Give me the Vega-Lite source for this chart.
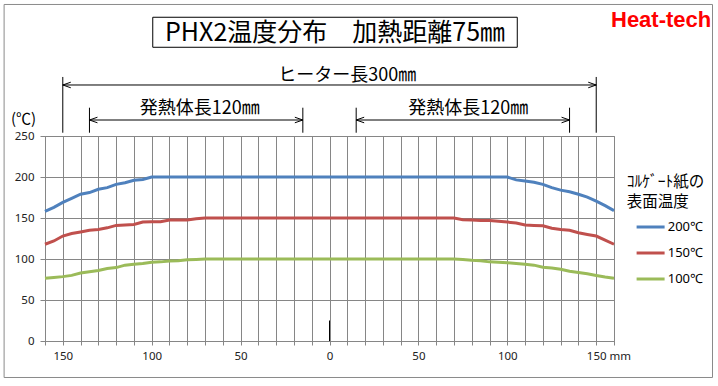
{
  "$schema": "https://vega.github.io/schema/vega-lite/v6.json",
  "width": 569,
  "height": 205,
  "autosize": {"type": "none"},
  "padding": {"left": 45, "top": 136, "right": 104, "bottom": 45},
  "background": "white",
  "config": {
    "view": {"stroke": "#868686", "strokeWidth": 1},
    "axis": {"labelFont": "Noto Sans", "labelFontSize": 11.5, "labelColor": "#222", "gridColor": "#868686", "gridOpacity": 1, "tickColor": "#868686", "domainColor": "#868686"}
  },
  "layer": [
    {
      "data": {"values": [{}]},
      "mark": {"type": "rect", "filled": false, "stroke": "#8a8a8a", "strokeWidth": 1, "clip": false},
      "encoding": {"x": {"datum": -183}, "x2": {"datum": 215.4}, "y": {"datum": 410.4}, "y2": {"datum": -44.5}}
    },
    {
      "data": {"values": [
        {"x": -160, "s": "200℃", "t": 158}, {"x": -155, "s": "200℃", "t": 163}, {"x": -150, "s": "200℃", "t": 169}, {"x": -145, "s": "200℃", "t": 174}, {"x": -140, "s": "200℃", "t": 179}, {"x": -135, "s": "200℃", "t": 181}, {"x": -130, "s": "200℃", "t": 185}, {"x": -125, "s": "200℃", "t": 187}, {"x": -120, "s": "200℃", "t": 191}, {"x": -115, "s": "200℃", "t": 193}, {"x": -110, "s": "200℃", "t": 196}, {"x": -105, "s": "200℃", "t": 197}, {"x": -100, "s": "200℃", "t": 200}, {"x": -50, "s": "200℃", "t": 200}, {"x": 0, "s": "200℃", "t": 200}, {"x": 50, "s": "200℃", "t": 200}, {"x": 100, "s": "200℃", "t": 200}, {"x": 105, "s": "200℃", "t": 196.5}, {"x": 110, "s": "200℃", "t": 195}, {"x": 115, "s": "200℃", "t": 193.5}, {"x": 120, "s": "200℃", "t": 191}, {"x": 125, "s": "200℃", "t": 187}, {"x": 130, "s": "200℃", "t": 184}, {"x": 135, "s": "200℃", "t": 182}, {"x": 140, "s": "200℃", "t": 179}, {"x": 145, "s": "200℃", "t": 175.5}, {"x": 150, "s": "200℃", "t": 170.5}, {"x": 155, "s": "200℃", "t": 165}, {"x": 160, "s": "200℃", "t": 159},
        {"x": -160, "s": "150℃", "t": 118}, {"x": -155, "s": "150℃", "t": 122}, {"x": -150, "s": "150℃", "t": 128}, {"x": -145, "s": "150℃", "t": 131}, {"x": -140, "s": "150℃", "t": 133}, {"x": -135, "s": "150℃", "t": 135}, {"x": -130, "s": "150℃", "t": 136}, {"x": -125, "s": "150℃", "t": 138}, {"x": -120, "s": "150℃", "t": 141}, {"x": -115, "s": "150℃", "t": 141.5}, {"x": -110, "s": "150℃", "t": 142}, {"x": -105, "s": "150℃", "t": 145}, {"x": -100, "s": "150℃", "t": 145.5}, {"x": -95, "s": "150℃", "t": 145.5}, {"x": -90, "s": "150℃", "t": 147.5}, {"x": -85, "s": "150℃", "t": 147.5}, {"x": -80, "s": "150℃", "t": 147.5}, {"x": -75, "s": "150℃", "t": 149}, {"x": -70, "s": "150℃", "t": 150}, {"x": 0, "s": "150℃", "t": 150}, {"x": 70, "s": "150℃", "t": 150}, {"x": 75, "s": "150℃", "t": 148}, {"x": 80, "s": "150℃", "t": 147.5}, {"x": 85, "s": "150℃", "t": 147}, {"x": 90, "s": "150℃", "t": 147}, {"x": 95, "s": "150℃", "t": 146}, {"x": 100, "s": "150℃", "t": 145}, {"x": 105, "s": "150℃", "t": 144}, {"x": 110, "s": "150℃", "t": 141.5}, {"x": 115, "s": "150℃", "t": 141}, {"x": 120, "s": "150℃", "t": 140.5}, {"x": 125, "s": "150℃", "t": 137.5}, {"x": 130, "s": "150℃", "t": 136}, {"x": 135, "s": "150℃", "t": 135}, {"x": 140, "s": "150℃", "t": 132}, {"x": 145, "s": "150℃", "t": 130}, {"x": 150, "s": "150℃", "t": 128}, {"x": 155, "s": "150℃", "t": 123}, {"x": 160, "s": "150℃", "t": 118},
        {"x": -160, "s": "100℃", "t": 76.5}, {"x": -155, "s": "100℃", "t": 77.5}, {"x": -150, "s": "100℃", "t": 78.5}, {"x": -145, "s": "100℃", "t": 80}, {"x": -140, "s": "100℃", "t": 83}, {"x": -135, "s": "100℃", "t": 84.5}, {"x": -130, "s": "100℃", "t": 86}, {"x": -125, "s": "100℃", "t": 88.5}, {"x": -120, "s": "100℃", "t": 89.5}, {"x": -115, "s": "100℃", "t": 92.5}, {"x": -110, "s": "100℃", "t": 93.5}, {"x": -105, "s": "100℃", "t": 94.5}, {"x": -100, "s": "100℃", "t": 96}, {"x": -95, "s": "100℃", "t": 96.5}, {"x": -90, "s": "100℃", "t": 97.5}, {"x": -85, "s": "100℃", "t": 98}, {"x": -80, "s": "100℃", "t": 99}, {"x": -75, "s": "100℃", "t": 99.5}, {"x": -70, "s": "100℃", "t": 100}, {"x": 0, "s": "100℃", "t": 100}, {"x": 70, "s": "100℃", "t": 100}, {"x": 75, "s": "100℃", "t": 99.5}, {"x": 80, "s": "100℃", "t": 98.5}, {"x": 85, "s": "100℃", "t": 98}, {"x": 90, "s": "100℃", "t": 96.5}, {"x": 95, "s": "100℃", "t": 96}, {"x": 100, "s": "100℃", "t": 95.5}, {"x": 105, "s": "100℃", "t": 94.5}, {"x": 110, "s": "100℃", "t": 93.5}, {"x": 115, "s": "100℃", "t": 92.5}, {"x": 120, "s": "100℃", "t": 90}, {"x": 125, "s": "100℃", "t": 89}, {"x": 130, "s": "100℃", "t": 87.5}, {"x": 135, "s": "100℃", "t": 85}, {"x": 140, "s": "100℃", "t": 83.5}, {"x": 145, "s": "100℃", "t": 82}, {"x": 150, "s": "100℃", "t": 80}, {"x": 155, "s": "100℃", "t": 78}, {"x": 160, "s": "100℃", "t": 76.5}
      ]},
      "mark": {"type": "line", "strokeWidth": 3},
      "encoding": {
        "x": {"field": "x", "type": "quantitative", "scale": {"domain": [-160, 160], "nice": false, "zero": false},
          "axis": {"title": null, "values": [-160, -150, -140, -130, -120, -110, -100, -90, -80, -70, -60, -50, -40, -30, -20, -10, 0, 10, 20, 30, 40, 50, 60, 70, 80, 90, 100, 110, 120, 130, 140, 150, 160], "tickCount": 40,
            "labelExpr": "datum.value % 50 == 0 ? format(abs(datum.value), 'd') : ''", "grid": true, "tickSize": 4, "labelPadding": 5, "labelFlush": false, "labelOverlap": false}},
        "y": {"field": "t", "type": "quantitative", "scale": {"domain": [0, 250], "nice": false},
          "axis": {"values": [0, 50, 100, 150, 200, 250], "tickCount": 10, "grid": true, "tickSize": 5, "labelPadding": 6,
            "title": "(℃)", "titleAngle": 0, "titleX": -22, "titleY": -18, "titleAlign": "center", "titleBaseline": "middle", "titleFont": "Noto Sans CJK JP", "titleFontSize": 15, "titleFontWeight": "normal", "titleColor": "black"}},
        "color": {"field": "s", "type": "nominal", "scale": {"domain": ["200℃", "150℃", "100℃"], "range": ["#4F81BD", "#C0504D", "#9BBB59"]},
          "legend": {"orient": "none", "legendX": 581.7, "legendY": 39, "padding": 0,
            "title": ["ｺﾙｹﾞｰﾄ紙の", "表面温度"], "titleFont": "Noto Sans CJK JP", "titleFontSize": 15.5, "titleFontWeight": "normal", "titleColor": "black", "titleLineHeight": 20, "titlePadding": 8,
            "labelFont": "Noto Sans", "labelFontSize": 13, "labelColor": "black", "labelOffset": 24,
            "symbolType": "M0.2,0H4.2", "symbolSize": 196, "symbolStrokeWidth": 3, "rowPadding": 10}}
      }
    },
    {
      "data": {"values": [{}]},
      "mark": {"type": "rule", "color": "black", "strokeWidth": 1},
      "encoding": {"x": {"datum": 0}, "y": {"datum": 0}, "y2": {"datum": 25}}
    },
    {
      "data": {"values": [{}]},
      "mark": {"type": "text", "text": "mm", "font": "Noto Sans", "fontSize": 11.5, "color": "#222", "align": "center", "baseline": "middle"},
      "encoding": {"x": {"datum": 163.5}, "y": {"datum": -19.5}}
    },
    {
      "data": {"values": [{}]},
      "mark": {"type": "rect", "fill": "white", "stroke": "black", "strokeWidth": 1},
      "encoding": {"x": {"datum": -99.4}, "x2": {"datum": 105.6}, "y": {"datum": 394.8}, "y2": {"datum": 358.2}}
    },
    {
      "data": {"values": [{}]},
      "mark": {"type": "text", "text": "PHX2温度分布　加熱距離75㎜", "font": "Noto Sans CJK JP", "fontSize": 25, "color": "black", "align": "center", "baseline": "middle"},
      "encoding": {"x": {"datum": 3.1}, "y": {"datum": 376.2}}
    },
    {
      "data": {"values": [{}]},
      "mark": {"type": "text", "text": "Heat-tech", "font": "Liberation Sans", "fontWeight": "bold", "fontSize": 22, "color": "#FF0000", "align": "center", "baseline": "alphabetic"},
      "encoding": {"x": {"datum": 186.5}, "y": {"datum": 382.6}}
    },
    {
      "data": {"values": [{}]},
      "mark": {"type": "text", "text": "ヒーター長300㎜", "font": "Noto Sans CJK JP", "fontSize": 18, "color": "black", "align": "center", "baseline": "middle"},
      "encoding": {"x": {"datum": 10}, "y": {"datum": 322.8}}
    },
    {
      "data": {"values": [{}]},
      "mark": {"type": "text", "text": "発熱体長120㎜", "font": "Noto Sans CJK JP", "fontSize": 18, "color": "black", "align": "center", "baseline": "middle"},
      "encoding": {"x": {"datum": -73}, "y": {"datum": 282.9}}
    },
    {
      "data": {"values": [{}]},
      "mark": {"type": "text", "text": "発熱体長120㎜", "font": "Noto Sans CJK JP", "fontSize": 18, "color": "black", "align": "center", "baseline": "middle"},
      "encoding": {"x": {"datum": 78}, "y": {"datum": 282.9}}
    },
    {
      "data": {"values": [{}]},
      "mark": {"type": "rule", "color": "black", "strokeWidth": 1},
      "encoding": {"x": {"datum": -150}, "x2": {"datum": 150}, "y": {"datum": 312.2}}
    },
    {
      "data": {"values": [{}]},
      "mark": {"type": "rule", "color": "black", "strokeWidth": 1},
      "encoding": {"x": {"datum": -150}, "y": {"datum": 322}, "y2": {"datum": 254}}
    },
    {
      "data": {"values": [{}]},
      "mark": {"type": "rule", "color": "black", "strokeWidth": 1},
      "encoding": {"x": {"datum": 150}, "y": {"datum": 322}, "y2": {"datum": 254}}
    },
    {
      "data": {"values": [{}]},
      "mark": {"type": "rule", "color": "black", "strokeWidth": 1},
      "encoding": {"x": {"datum": -135}, "x2": {"datum": -15}, "y": {"datum": 269.5}}
    },
    {
      "data": {"values": [{}]},
      "mark": {"type": "rule", "color": "black", "strokeWidth": 1},
      "encoding": {"x": {"datum": 15}, "x2": {"datum": 135}, "y": {"datum": 269.5}}
    },
    {
      "data": {"values": [{}]},
      "mark": {"type": "rule", "color": "black", "strokeWidth": 1},
      "encoding": {"x": {"datum": -135}, "y": {"datum": 284.5}, "y2": {"datum": 254}}
    },
    {
      "data": {"values": [{}]},
      "mark": {"type": "rule", "color": "black", "strokeWidth": 1},
      "encoding": {"x": {"datum": -15}, "y": {"datum": 284.5}, "y2": {"datum": 254}}
    },
    {
      "data": {"values": [{}]},
      "mark": {"type": "rule", "color": "black", "strokeWidth": 1},
      "encoding": {"x": {"datum": 15}, "y": {"datum": 284.5}, "y2": {"datum": 254}}
    },
    {
      "data": {"values": [{}]},
      "mark": {"type": "rule", "color": "black", "strokeWidth": 1},
      "encoding": {"x": {"datum": 135}, "y": {"datum": 284.5}, "y2": {"datum": 254}}
    },
    {
      "data": {"values": [{}]},
      "mark": {"type": "point", "shape": "M0,0L2,-0.7M0,0L2,0.7", "filled": false, "stroke": "black", "strokeWidth": 1, "size": 64, "opacity": 1},
      "encoding": {"x": {"datum": -150}, "y": {"datum": 312.2}}
    },
    {
      "data": {"values": [{}]},
      "mark": {"type": "point", "shape": "M0,0L-2,-0.7M0,0L-2,0.7", "filled": false, "stroke": "black", "strokeWidth": 1, "size": 64, "opacity": 1},
      "encoding": {"x": {"datum": 150}, "y": {"datum": 312.2}}
    },
    {
      "data": {"values": [{}]},
      "mark": {"type": "point", "shape": "M0,0L2,-0.7M0,0L2,0.7", "filled": false, "stroke": "black", "strokeWidth": 1, "size": 64, "opacity": 1},
      "encoding": {"x": {"datum": -135}, "y": {"datum": 269.5}}
    },
    {
      "data": {"values": [{}]},
      "mark": {"type": "point", "shape": "M0,0L-2,-0.7M0,0L-2,0.7", "filled": false, "stroke": "black", "strokeWidth": 1, "size": 64, "opacity": 1},
      "encoding": {"x": {"datum": -15}, "y": {"datum": 269.5}}
    },
    {
      "data": {"values": [{}]},
      "mark": {"type": "point", "shape": "M0,0L2,-0.7M0,0L2,0.7", "filled": false, "stroke": "black", "strokeWidth": 1, "size": 64, "opacity": 1},
      "encoding": {"x": {"datum": 15}, "y": {"datum": 269.5}}
    },
    {
      "data": {"values": [{}]},
      "mark": {"type": "point", "shape": "M0,0L-2,-0.7M0,0L-2,0.7", "filled": false, "stroke": "black", "strokeWidth": 1, "size": 64, "opacity": 1},
      "encoding": {"x": {"datum": 135}, "y": {"datum": 269.5}}
    }
  ]
}
